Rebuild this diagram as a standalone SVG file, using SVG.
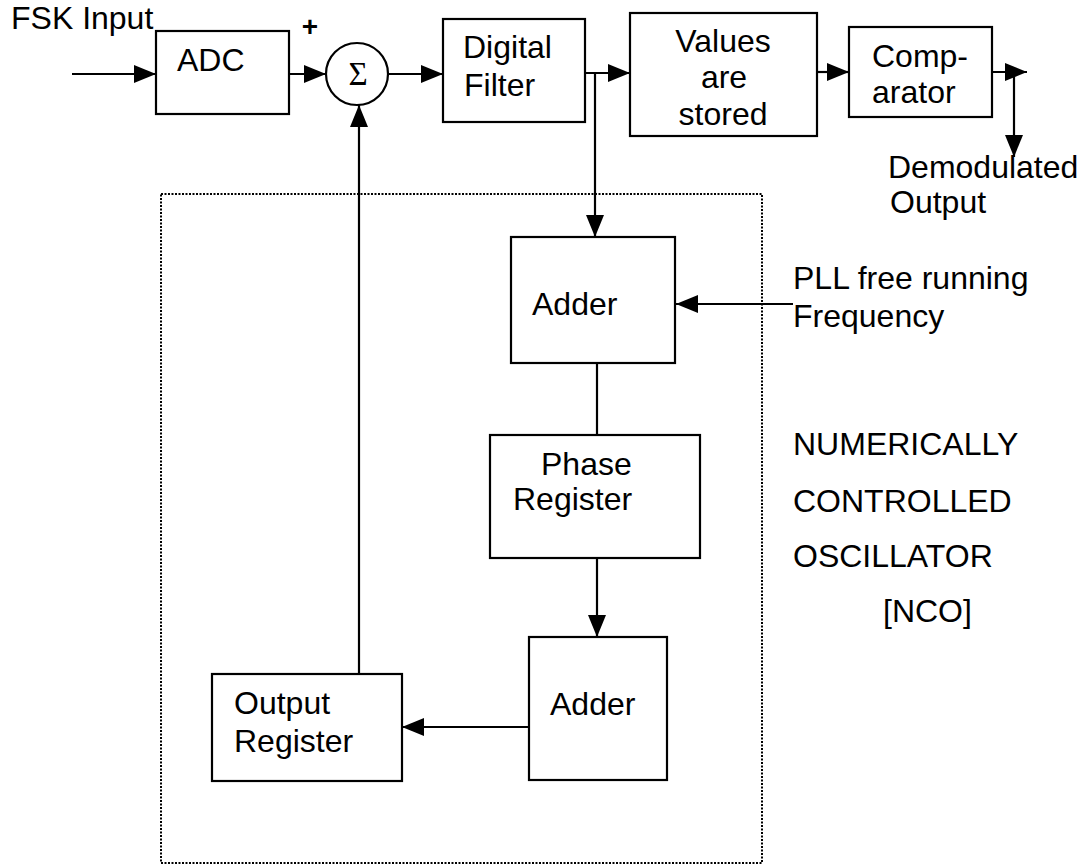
<svg xmlns="http://www.w3.org/2000/svg" width="1086" height="866" viewBox="0 0 1086 866">
  <style>
    .box { fill: #fff; stroke: #000; stroke-width: 2.2; }
    .wire { fill: none; stroke: #000; stroke-width: 2.2; }
    .nco { fill: none; stroke: #000; stroke-width: 2; stroke-dasharray: 2 1.5; }
    .lbl { font-family: "Liberation Sans", Arial, sans-serif; font-size: 32px; fill: #000; }
    .mid { text-anchor: middle; }
    .plus { font-family: "Liberation Sans", Arial, sans-serif; font-size: 28px; font-weight: bold; fill: #000; text-anchor: middle; }
    .sym { font-family: "Liberation Serif", "Times New Roman", serif; font-size: 33px; fill: #000; text-anchor: middle; }
  </style>
  <defs>
    <marker id="arrow" viewBox="0 0 22 18" refX="22" refY="9" markerWidth="22" markerHeight="18" markerUnits="userSpaceOnUse" orient="auto">
      <path d="M0,0 L22,9 L0,18 z" fill="#000"/>
    </marker>
  </defs>

  <rect width="1086" height="866" fill="#fff"/>

  <!-- NCO boundary (dotted) -->
  <rect id="nco-boundary" class="nco" x="161" y="194" width="601" height="669"/>

  <!-- connectors -->
  <g id="connectors">
    <line class="wire" x1="72" y1="74" x2="156" y2="74" marker-end="url(#arrow)"/>
    <line class="wire" x1="289" y1="74" x2="326" y2="74" marker-end="url(#arrow)"/>
    <line class="wire" x1="388" y1="74" x2="443" y2="74" marker-end="url(#arrow)"/>
    <line class="wire" x1="585" y1="73" x2="630" y2="73" marker-end="url(#arrow)"/>
    <line class="wire" x1="595" y1="73" x2="595" y2="237" marker-end="url(#arrow)"/>
    <line class="wire" x1="817" y1="72" x2="849" y2="72" marker-end="url(#arrow)"/>
    <line class="wire" x1="992" y1="72" x2="1027" y2="72" marker-end="url(#arrow)"/>
    <line class="wire" x1="1014" y1="72" x2="1014" y2="157" marker-end="url(#arrow)"/>
    <line class="wire" x1="793" y1="304" x2="676" y2="304" marker-end="url(#arrow)"/>
    <line class="wire" x1="597" y1="363" x2="597" y2="435"/>
    <line class="wire" x1="597" y1="558" x2="597" y2="637" marker-end="url(#arrow)"/>
    <line class="wire" x1="529" y1="727" x2="402" y2="727" marker-end="url(#arrow)"/>
    <line class="wire" x1="359" y1="674" x2="359" y2="105" marker-end="url(#arrow)"/>
  </g>

  <!-- free-standing labels -->
  <text class="lbl" x="11" y="29">FSK Input</text>
  <text class="plus" x="310" y="36">+</text>
  <text class="lbl" x="888" y="178">Demodulated</text>
  <text class="lbl" x="890" y="213">Output</text>
  <text class="lbl" x="793" y="289">PLL free running</text>
  <text class="lbl" x="793" y="327">Frequency</text>
  <text class="lbl" x="793" y="455">NUMERICALLY</text>
  <text class="lbl" x="793" y="512">CONTROLLED</text>
  <text class="lbl" x="793" y="567">OSCILLATOR</text>
  <text class="lbl" x="883" y="622">[NCO]</text>

  <g id="adc">
    <rect class="box" x="156" y="31" width="133" height="83"/>
    <text class="lbl" x="177" y="71">ADC</text>
  </g>

  <g id="summer">
    <circle class="box" cx="357" cy="74" r="31"/>
    <text class="sym" x="358" y="85">Σ</text>
  </g>

  <g id="digital-filter">
    <rect class="box" x="443" y="19" width="142" height="103"/>
    <text class="lbl" x="463" y="58">Digital</text>
    <text class="lbl" x="464" y="96">Filter</text>
  </g>

  <g id="value-store">
    <rect class="box" x="630" y="13" width="187" height="123"/>
    <text class="lbl mid" x="723" y="52">Values</text>
    <text class="lbl mid" x="724" y="88">are</text>
    <text class="lbl mid" x="723" y="125">stored</text>
  </g>

  <g id="comparator">
    <rect class="box" x="849" y="27" width="143" height="90"/>
    <text class="lbl" x="872" y="67">Comp-</text>
    <text class="lbl" x="872" y="103">arator</text>
  </g>

  <g id="adder-1">
    <rect class="box" x="511" y="237" width="164" height="126"/>
    <text class="lbl" x="532" y="315">Adder</text>
  </g>

  <g id="phase-register">
    <rect class="box" x="490" y="435" width="210" height="123"/>
    <text class="lbl" x="541" y="475">Phase</text>
    <text class="lbl" x="513" y="510">Register</text>
  </g>

  <g id="adder-2">
    <rect class="box" x="529" y="637" width="138" height="143"/>
    <text class="lbl" x="550" y="715">Adder</text>
  </g>

  <g id="output-register">
    <rect class="box" x="212" y="674" width="190" height="107"/>
    <text class="lbl" x="234" y="714">Output</text>
    <text class="lbl" x="234" y="752">Register</text>
  </g>
</svg>
